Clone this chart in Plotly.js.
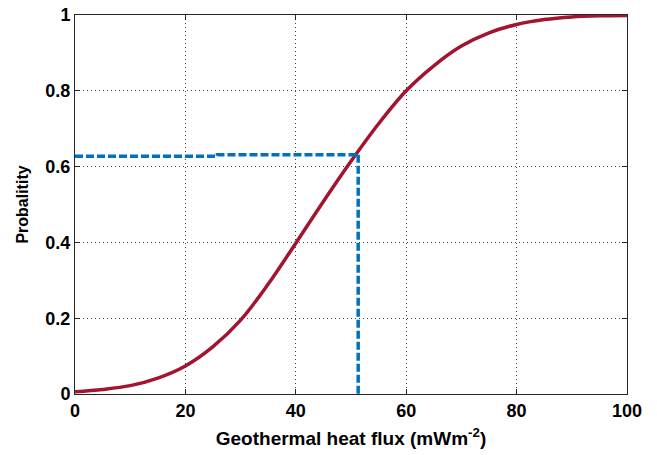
<!DOCTYPE html>
<html>
<head>
<meta charset="utf-8">
<script src="https://cdn.plot.ly/plotly-3.0.1.min.js"></script>
<style>
html,body{margin:0;padding:0;background:#fff;}
#chart{width:657px;height:455px;}
</style>
</head>
<body>
<div id="chart"></div>
<script>
// Cumulative probability curve
const fluxValues = [0, 5, 10, 15, 20, 25, 30, 35, 40, 45, 50, 55, 60, 65, 70, 75, 80, 85, 90, 95, 100];
const probValues = [0.006, 0.012, 0.022, 0.042, 0.074, 0.125, 0.195, 0.290, 0.398, 0.508, 0.614, 0.713, 0.80, 0.866, 0.918, 0.953, 0.975, 0.988, 0.995, 0.998, 0.999];

// Dashed guide lines
const guideHX = [0, 25.8, 25.8, 51.3];
const guideHY = [0.627, 0.627, 0.631, 0.631];
const guideVX = [51.3, 51.3];
const guideVY = [0.631, 0];

const xTicks = [0, 20, 40, 60, 80, 100];
const yTicks = [0, 0.2, 0.4, 0.6, 0.8, 1];
const yTickText = ['0', '0.2', '0.4', '0.6', '0.8', '1'];

const curveColor = '#A2142F';
const guideColor = '#0072BD';

const traces = [
  {x: fluxValues, y: probValues, mode: 'lines', type: 'scatter',
   line: {color: curveColor, width: 3.5, shape: 'spline', smoothing: 1}, hoverinfo: 'skip'},
  {x: guideHX, y: guideHY, mode: 'lines', type: 'scatter',
   line: {color: guideColor, width: 3.5, dash: '8px,3px'}, hoverinfo: 'skip'},
  {x: guideVX, y: guideVY, mode: 'lines', type: 'scatter',
   line: {color: guideColor, width: 3.5, dash: '8px,3px'}, hoverinfo: 'skip'}
];

const fam = 'Liberation Sans, Arial, sans-serif';
const tickFont = {family: fam, size: 18, color: '#000', weight: 'bold'};
const xTitleFont = {family: fam, size: 19, color: '#000', weight: 'bold'};
const yTitleFont = {family: fam, size: 16, color: '#000', weight: 'bold'};

const layout = {
  width: 657, height: 455,
  margin: {l: 75, r: 30, t: 15, b: 61},
  paper_bgcolor: '#fff', plot_bgcolor: '#fff',
  showlegend: false,
  xaxis: {
    range: [0, 100], tickvals: xTicks, ticktext: xTicks.map(String),
    showgrid: true, gridcolor: '#444', griddash: '1px,3px', gridwidth: 1,
    zeroline: false, showline: true, linecolor: '#262626', linewidth: 1, mirror: 'ticks',
    ticks: 'inside', ticklen: 5, tickcolor: '#262626',
    tickfont: tickFont,
    title: {text: 'Geothermal heat flux (mWm<sup>-2</sup>)', font: xTitleFont, standoff: 12}
  },
  yaxis: {
    range: [0, 1], tickvals: yTicks, ticktext: yTickText,
    showgrid: true, gridcolor: '#444', griddash: '1px,3px', gridwidth: 1,
    zeroline: false, showline: true, linecolor: '#262626', linewidth: 1, mirror: 'ticks',
    ticks: 'inside', ticklen: 5, tickcolor: '#262626',
    tickfont: tickFont,
    title: {text: 'Probalitity', font: yTitleFont, standoff: 12}
  }
};

Plotly.newPlot('chart', traces, layout, {displayModeBar: false, staticPlot: true});
</script>
</body>
</html>
